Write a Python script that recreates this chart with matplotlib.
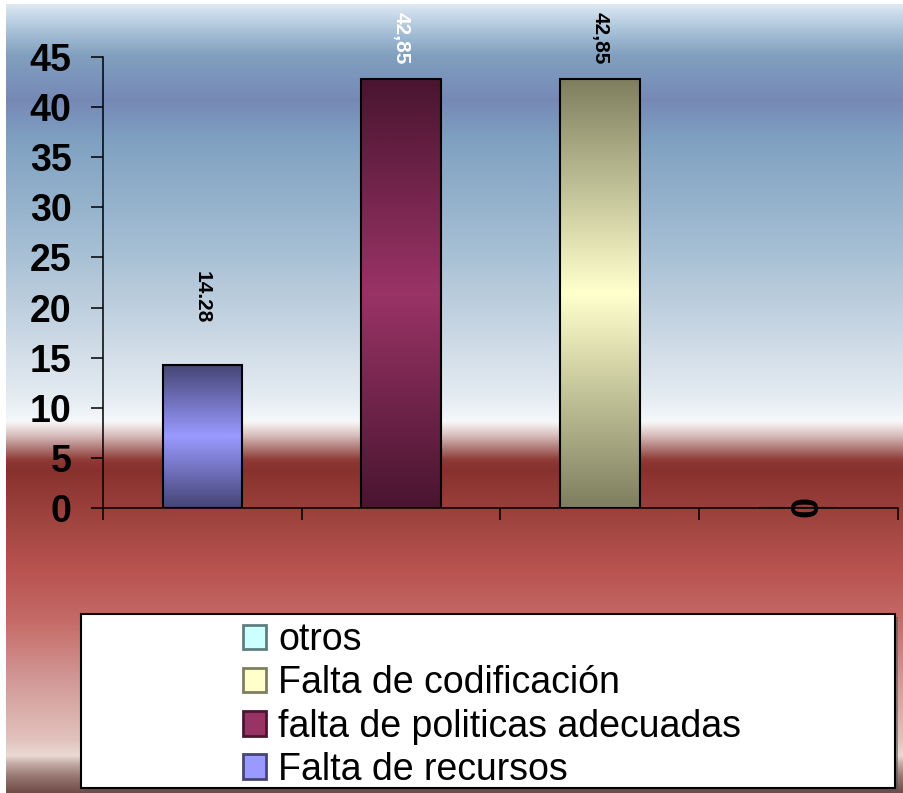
import numpy as np
import matplotlib
matplotlib.use("Agg")
import matplotlib.pyplot as plt
from matplotlib.patches import Rectangle, Patch
from matplotlib.colors import to_rgb, LinearSegmentedColormap

plt.rcParams['font.family'] = ['Liberation Sans', 'DejaVu Sans']

# ---- data ----
categories = ["Falta de recursos", "falta de politicas adecuadas",
              "Falta de codificación", "otros"]
values = [14.28, 42.85, 42.85, 0]
value_labels = ["14.28", "42,85", "42,85", "0"]
yticks = [0, 5, 10, 15, 20, 25, 30, 35, 40, 45]

# ---- style ----
light_cols = ["#9999ff", "#993366", "#ffffcc", "#ccffff"]
dark_cols = ["#454575", "#4a1530", "#7f7f60", "#5f7f7f"]
label_colors = ["black", "white", "black", "black"]
label_offsets_pt = [30, 10, 10, 0]

W, H = 904, 793
fig = plt.figure(figsize=(W / 100, H / 100), dpi=100, facecolor="white")

# background gradient (figure level)
bg_stops = [
    (4, "#dde8f2"), (30, "#a9c2d9"), (55, "#819fbf"), (100, "#7689b6"),
    (140, "#7fa1c1"), (250, "#a6bfd4"), (330, "#c8d6e3"), (400, "#e6edf3"),
    (421, "#f6f8fa"), (424, "#f4eeee"), (435, "#d8c0bf"), (448, "#b07a78"),
    (460, "#8f3a36"), (470, "#87312e"), (520, "#a0443f"), (570, "#b85350"),
    (620, "#c56a66"), (680, "#d29896"), (740, "#e2c2bd"), (756, "#eadad4"),
    (764, "#c4aca6"), (776, "#9a7a74"), (793, "#6f4c48"),
]
ys = np.arange(4, H + 1)
sy = np.array([s[0] for s in bg_stops], float)
sc = np.array([to_rgb(s[1]) for s in bg_stops])
img = np.stack([np.interp(ys, sy, sc[:, k]) for k in range(3)], axis=1)[:, None, :]
bgax = fig.add_axes([0, 0, 1, 1], zorder=0)
bgax.imshow(img, extent=(6, W, H, 4), aspect="auto", interpolation="bilinear")
bgax.set_xlim(0, W)
bgax.set_ylim(H, 0)
bgax.axis("off")

# main axes
ax = fig.add_axes([103 / W, 1 - 508 / H, (898 - 103) / W, (508 - 57) / H], zorder=1)
ax.set_facecolor("none")
x = np.arange(len(categories))
bars = ax.bar(x, values, width=0.4, facecolor="none", edgecolor="black",
              linewidth=1.5, zorder=3)

grad = np.concatenate([np.linspace(0, 1, 50), np.linspace(1, 0, 50)])[:, None]
for b, lc, dc in zip(bars, light_cols, dark_cols):
    if b.get_height() <= 0:
        continue
    cmap = LinearSegmentedColormap.from_list("g", [dc, lc])
    im = ax.imshow(grad, cmap=cmap, aspect="auto", interpolation="bilinear",
                   extent=(b.get_x(), b.get_x() + b.get_width(), 0, b.get_height()),
                   zorder=2)
    im.set_clip_path(b)

for b, v, lab, col, off in zip(bars, values, value_labels, label_colors, label_offsets_pt):
    cx = b.get_x() + b.get_width() / 2
    if v == 0:
        ax.text(cx, 0, lab, rotation=-90, ha="center", va="center",
                fontsize=27, fontweight="bold", color=col, zorder=5)
    else:
        ax.annotate(lab, xy=(cx, v), xytext=(0, off), textcoords="offset points",
                    rotation=-90, ha="center", va="bottom", fontsize=15,
                    fontweight="bold", color=col, zorder=5)

ax.set_xlim(-0.5, len(categories) - 0.5)
ax.set_ylim(0, 45)
ax.set_yticks(yticks)
ax.set_yticklabels([str(t) for t in yticks], fontsize=27, fontweight="bold")
ax.set_xticks(np.arange(len(categories) + 1) - 0.5)
ax.set_xticklabels([])
ax.tick_params(axis="y", direction="out", length=8.6, width=1.1, pad=14)
ax.tick_params(axis="x", direction="out", length=8.6, width=1.1)
for s in ["top", "right"]:
    ax.spines[s].set_visible(False)
for s in ["left", "bottom"]:
    ax.spines[s].set_linewidth(1.1)

# legend box with shadow
lx0, ly0, lx1, ly1 = 81, 614, 895, 788
fig.patches.append(Rectangle((lx0 / W + 3 / W, 1 - ly1 / H - 3 / H), (lx1 - lx0) / W, (ly1 - ly0) / H,
                             transform=fig.transFigure, facecolor="#555555", edgecolor="none",
                             zorder=2, alpha=0.6))
fig.patches.append(Rectangle((lx0 / W, 1 - ly1 / H), (lx1 - lx0) / W, (ly1 - ly0) / H,
                             transform=fig.transFigure, facecolor="white", edgecolor="black",
                             linewidth=1.5, zorder=3))
handles = [Patch(facecolor=light_cols[i], edgecolor=dark_cols[i], linewidth=2.0, label=categories[i])
           for i in range(len(categories) - 1, -1, -1)]
leg = fig.legend(handles=handles, loc="center",
                 bbox_to_anchor=((lx0 + lx1) / 2 / W + 4 / W, 1 - (ly0 + ly1) / 2 / H - 4 / H),
                 frameon=False, fontsize=27, handlelength=0.62, handleheight=0.62,
                 handletextpad=0.32, labelspacing=0.19, borderpad=0)
leg.set_zorder(4)

fig.savefig("out.png", dpi=100, facecolor="white")
